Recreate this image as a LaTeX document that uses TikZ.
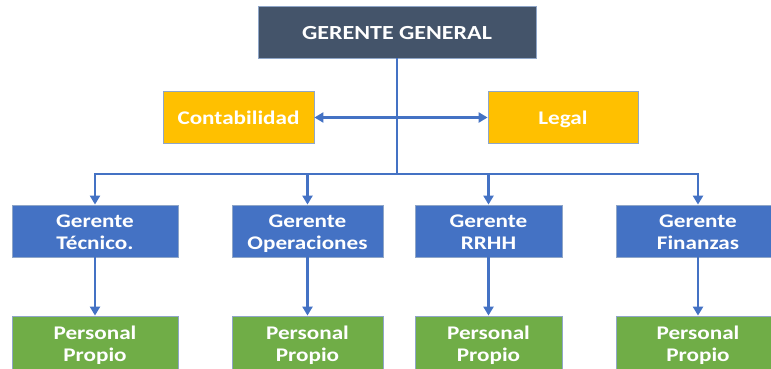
\documentclass[tikz,border=0pt]{standalone}
\usepackage{fontspec}
\setmainfont{Carlito}[FakeStretch=1.2]
\usetikzlibrary{arrows.meta}
\definecolor{ggfill}{HTML}{44546A}
\definecolor{ylfill}{HTML}{FFC000}
\definecolor{blfill}{HTML}{4472C4}
\definecolor{grfill}{HTML}{70AD47}
\definecolor{edgec}{HTML}{8FA6C8}
\definecolor{linec}{HTML}{4472C4}
\newcommand{\mystrut}{\rule[-4pt]{0pt}{22pt}}
\newcommand{\twolines}[2]{\mystrut #1\\\mystrut #2}
\newcommand{\gtwolines}[2]{\mystrut #1\\\rule[-10pt]{0pt}{28pt}#2}
\tikzset{
  x=1pt, y=-1pt,
  box/.style={draw=edgec, line width=0.8pt, minimum height=52pt, inner sep=0pt,
    align=center, text=white, font=\bfseries\fontsize{19.3}{22}\selectfont},
  topbox/.style={box, fill=ggfill, font=\bfseries\fontsize{20}{22}\selectfont},
  ybox/.style={box, fill=ylfill},
  bbox/.style={box, fill=blfill},
  gbox/.style={box, fill=grfill, minimum height=60pt},
  conn/.style={draw=linec, line width=2.2pt},
  arr/.style={conn, -{Triangle[width=10pt,length=9pt]}},
}
\begin{document}
\begin{tikzpicture}
\useasboundingbox (0,0) rectangle (771,368);
\begin{scope}
\clip (0,0) rectangle (771,368);
\node[topbox, minimum width=278pt] (gg) at (397,32) {\mystrut GERENTE GENERAL};
\node[ybox, minimum width=151pt] (cont) at (238.5,117.5) {\mystrut Contabilidad};
\node[ybox, minimum width=150pt] (legal) at (563,117.5) {\mystrut Legal};

\node[bbox, minimum width=166pt] (tec) at (95,231) {\twolines{Gerente}{Técnico.}};
\node[bbox, minimum width=151pt] (op) at (307.5,231) {\twolines{Gerente}{Operaciones}};
\node[bbox, minimum width=147pt] (rh) at (488.5,231) {\twolines{Gerente}{RRHH}};
\node[bbox, minimum width=164pt] (fin) at (698,231) {\twolines{Gerente}{Finanzas}};

\node[gbox, minimum width=166pt] (p1) at (95,346) {\gtwolines{Personal}{Propio}};
\node[gbox, minimum width=151pt] (p2) at (307.5,346) {\gtwolines{Personal}{Propio}};
\node[gbox, minimum width=147pt] (p3) at (488.5,346) {\gtwolines{Personal}{Propio}};
\node[gbox, minimum width=164pt] (p4) at (698,346) {\gtwolines{Personal}{Propio}};

\coordinate (hub) at (397,117.5);
\coordinate (busM) at (397,174);
\coordinate (busL) at (95,174);
\coordinate (busR) at (698,174);

\draw[conn] (gg.south) -- (busM);
\draw[arr] (hub) -- (cont.east);
\draw[arr] (hub) -- (legal.west);
\draw[conn, line cap=rect] (busL) -- (busR);
\draw[arr] (busL) -- (tec.north);
\draw[arr] (op.north |- busL) -- (op.north);
\draw[arr] (rh.north |- busL) -- (rh.north);
\draw[arr] (busR) -- (fin.north);

\draw[arr] (tec.south) -- (p1.north);
\draw[arr] (op.south) -- (p2.north);
\draw[arr] (rh.south) -- (p3.north);
\draw[arr] (fin.south) -- (p4.north);
\end{scope}
\end{tikzpicture}
\end{document}
